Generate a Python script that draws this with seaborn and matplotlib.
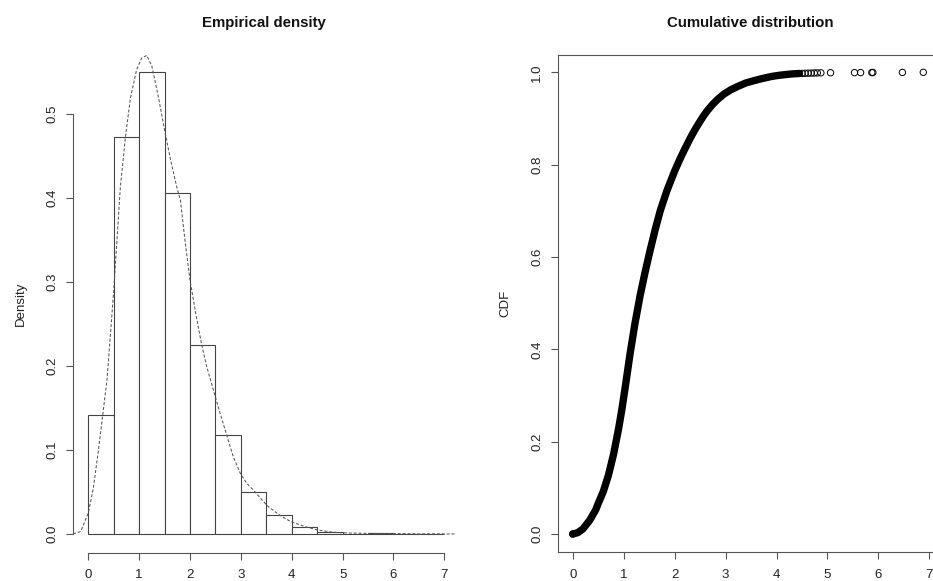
import matplotlib
matplotlib.use("Agg")
import matplotlib.pyplot as plt
import seaborn as sns

# histogram (density scale), bins of width 0.5 from 0 to 7
bin_edges = [0.0, 0.5, 1.0, 1.5, 2.0, 2.5, 3.0, 3.5, 4.0, 4.5, 5.0, 5.5, 6.0, 6.5, 7.0]
bar_heights = [0.142, 0.473, 0.550, 0.406, 0.225, 0.118, 0.050, 0.023, 0.008,
               0.0027, 0.00025, 0.001, 0.00025, 0.00025]

# kernel density curve
dens_x = [-0.30, -0.15, 0.00, 0.10, 0.20, 0.30, 0.37, 0.45, 0.50, 0.63, 0.73, 0.83,
          0.95, 1.05, 1.15, 1.25, 1.38, 1.50, 1.62, 1.74, 1.81, 1.90, 2.00, 2.12,
          2.23, 2.33, 2.49, 2.59, 2.72, 2.85, 2.99, 3.12, 3.25, 3.51, 3.75, 3.97,
          4.25, 4.49, 4.75, 5.00, 5.50, 6.00, 6.50, 7.20]
dens_y = [0.000, 0.003, 0.025, 0.055, 0.100, 0.150, 0.185, 0.250, 0.290, 0.413,
          0.473, 0.520, 0.553, 0.567, 0.570, 0.557, 0.520, 0.481, 0.445, 0.413,
          0.398, 0.350, 0.302, 0.260, 0.225, 0.199, 0.165, 0.144, 0.118, 0.092,
          0.072, 0.060, 0.052, 0.034, 0.023, 0.015, 0.009, 0.005, 0.0025, 0.0013,
          0.0007, 0.0005, 0.0002, 0.000]

# empirical cdf: dense part (drawn as a thick band) and sparse tail points
cdf_x = [0.0, 0.1, 0.2, 0.335, 0.45, 0.5, 0.6, 0.7, 0.8, 0.9, 0.962, 1.04, 1.125,
         1.22, 1.32, 1.42, 1.516, 1.62, 1.72, 1.85, 2.0, 2.1, 2.2, 2.3, 2.4, 2.5,
         2.57, 2.65, 2.75, 2.85, 2.97, 3.1, 3.25, 3.4, 3.56, 3.7, 3.9, 4.05, 4.21,
         4.3, 4.45]
cdf_y = [0.0, 0.003, 0.011, 0.030, 0.052, 0.066, 0.092, 0.127, 0.172, 0.228, 0.268,
         0.325, 0.390, 0.455, 0.515, 0.567, 0.613, 0.660, 0.701, 0.744, 0.786,
         0.811, 0.834, 0.856, 0.876, 0.894, 0.906, 0.918, 0.931, 0.942, 0.953,
         0.962, 0.970, 0.977, 0.982, 0.986, 0.991, 0.9935, 0.9955, 0.9965, 0.9975]
tail_x = [0.0, 4.50, 4.56, 4.62, 4.68, 4.74, 4.80, 4.87, 5.06, 5.53, 5.65, 5.87,
          5.89, 6.47, 6.88]
tail_y = [0.0, 0.9977, 0.9979, 0.9981, 0.9983, 0.9985, 0.9987, 0.9989, 0.9991,
          0.9993, 0.9994, 0.9995, 0.9996, 0.9998, 1.0]

x_ticks = [0, 1, 2, 3, 4, 5, 6, 7]
dens_ticks = [0.0, 0.1, 0.2, 0.3, 0.4, 0.5]
cdf_ticks = [0.0, 0.2, 0.4, 0.6, 0.8, 1.0]

sns.set_style("ticks")
plt.rcParams["font.family"] = ["Liberation Sans", "DejaVu Sans"]

W, H = 933, 581
fig = plt.figure(figsize=(W / 100, H / 100), dpi=100)

axis_col = "#555555"
text_col = "#222222"


def px_axes(x0, x1, y0, y1):
    return fig.add_axes([x0 / W, (H - y1) / H, (x1 - x0) / W, (y1 - y0) / H])


def style_axis(ax):
    ax.tick_params(axis="both", direction="out", length=5, width=0.8,
                   color=axis_col, labelcolor=text_col, labelsize=9.5,
                   left=True, bottom=True)
    ax.tick_params(axis="x", pad=7)
    ax.tick_params(axis="y", pad=6)
    for lab in ax.get_yticklabels():
        lab.set_rotation(90)
        lab.set_va("center")


# ---- left: empirical density
ax1 = px_axes(73.3, 454, 55, 552.7)
bin_mids = [(a + b) / 2 for a, b in zip(bin_edges[:-1], bin_edges[1:])]
sns.histplot(x=bin_mids, weights=bar_heights, bins=bin_edges, stat="count",
             color="white", edgecolor="#444444", linewidth=0.8, alpha=1, ax=ax1)
sns.lineplot(x=dens_x, y=dens_y, color="#555555", linewidth=0.75,
             linestyle=(0, (2.9, 1.8)), ax=ax1, clip_on=False)
ax1.set_xlim(-0.295, 7.19)
ax1.set_ylim(-0.0223, 0.5705)
ax1.set_xticks(x_ticks)
ax1.set_xticklabels([str(t) for t in x_ticks])
ax1.set_yticks(dens_ticks)
ax1.set_yticklabels([f"{t:.1f}" for t in dens_ticks])
for s in ["top", "right"]:
    ax1.spines[s].set_visible(False)
ax1.spines["left"].set_bounds(0, 0.5)
ax1.spines["bottom"].set_bounds(0, 7)
for s in ["left", "bottom"]:
    ax1.spines[s].set_color(axis_col)
    ax1.spines[s].set_linewidth(0.8)
ax1.set_xlabel("")
ax1.set_ylabel("Density", fontsize=9.5, color=text_col, labelpad=14)
style_axis(ax1)

# ---- right: cumulative distribution
ax2 = px_axes(558.3, 935, 55, 552.3)
sns.lineplot(x=cdf_x, y=cdf_y, color="black", linewidth=5.3, ax=ax2,
             solid_capstyle="round", solid_joinstyle="round", sort=False)
sns.scatterplot(x=tail_x, y=tail_y, marker="o", s=21, facecolor="none",
                edgecolor="black", linewidth=0.7, ax=ax2)
ax2.set_xlim(-0.283, 7.11)
ax2.set_ylim(-0.0396, 1.0375)
ax2.set_xticks(x_ticks)
ax2.set_xticklabels([str(t) for t in x_ticks])
ax2.set_yticks(cdf_ticks)
ax2.set_yticklabels([f"{t:.1f}" for t in cdf_ticks])
for s in ax2.spines.values():
    s.set_visible(True)
    s.set_color(axis_col)
    s.set_linewidth(0.8)
ax2.set_xlabel("")
ax2.set_ylabel("CDF", fontsize=9.5, color=text_col, labelpad=14)
style_axis(ax2)

# titles
fig.text((73.3 + 454) / 2 / W, (H - 23) / H, "Empirical density",
         ha="center", va="center", fontsize=10.8, fontweight="bold", color="#111111")
fig.text(750 / W, (H - 23) / H, "Cumulative distribution",
         ha="center", va="center", fontsize=10.8, fontweight="bold", color="#111111")

fig.savefig("out.png", dpi=100)
